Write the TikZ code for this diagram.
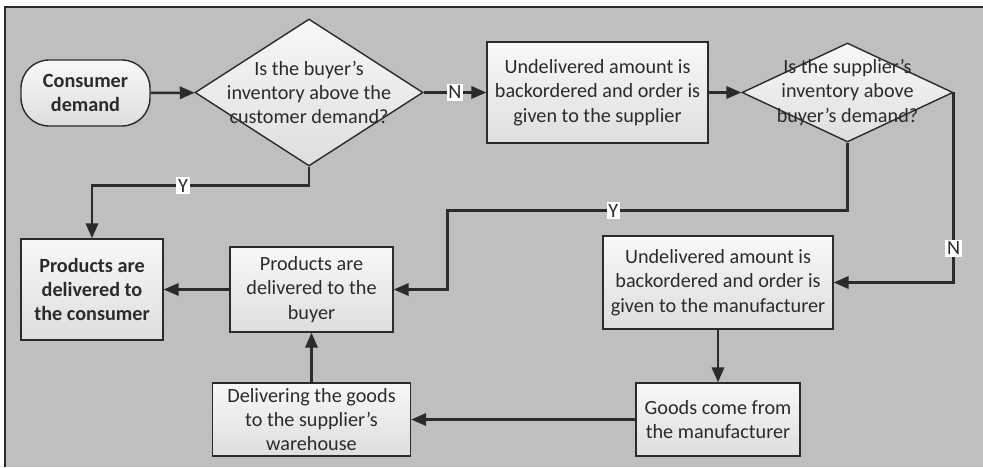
\documentclass[tikz,border=0pt]{standalone}
\usepackage{fontspec}
\setmainfont{Carlito}
\usetikzlibrary{positioning,arrows.meta,shapes.geometric,calc}
\definecolor{pagegray}{HTML}{BFBFBF}
\definecolor{inkgray}{HTML}{2B2B2B}
\definecolor{boxtop}{HTML}{F8F8F8}
\definecolor{boxbot}{HTML}{DEDEDE}
\tikzset{
  procb/.style={draw=inkgray, line width=0.8pt, top color=boxtop, bottom color=boxbot,
    align=center, inner sep=0pt, text=inkgray, font=\fontsize{11.5}{13.9}\selectfont},
  termb/.style={procb, rounded corners=16pt, font=\fontsize{11.5}{13.9}\selectfont\bfseries},
  askb/.style={procb, diamond, inner sep=-16pt},
  flow/.style={-{Triangle[length=8.5pt,width=7pt]}, line width=1.4pt, draw=inkgray},
  flab/.style={fill=white, inner sep=1pt, text=inkgray, font=\fontsize{11.5}{12}\selectfont},
}

\begin{document}
\begin{tikzpicture}[x=0.02cm, y=0.02cm]
    \useasboundingbox (0,0) rectangle (983,467);
    % backdrop
    \fill[pagegray] (5,0) rectangle (983,460);
    \draw[inkgray, line width=1pt] (5,0) -- (5,460) -- (983,460);
    % top row
    \node[termb, minimum width=129*0.02cm, minimum height=66*0.02cm] (demand) at (85.5,374) {Consumer\\demand};
    \node[askb, aspect=1.55, minimum width=228*0.02cm, minimum height=147*0.02cm] (buyask) at (309,374.5) {Is the buyer’s\\inventory above the\\customer demand?};
    \node[procb, minimum width=221*0.02cm, minimum height=101*0.02cm] (suporder) at (597.5,374.5) {Undelivered amount is\\backordered and order is\\given to the supplier};
    \node[askb, aspect=2.13, minimum width=211*0.02cm, minimum height=99*0.02cm] (supask) at (847.5,374.5) {Is the supplier’s\\inventory above\\buyer’s demand?};
    % middle row
    \node[procb, minimum width=142*0.02cm, minimum height=101*0.02cm, font=\fontsize{11.5}{13.9}\selectfont\bfseries] (consumer) at (92,177.5) {Products are\\delivered to\\the consumer};
    \node[procb, minimum width=163*0.02cm, minimum height=85*0.02cm] (buyer) at (311.5,177.5) {Products are\\delivered to the\\buyer};
    \node[procb, minimum width=230*0.02cm, minimum height=93*0.02cm] (manorder) at (718,184.5) {Undelivered amount is\\backordered and order is\\given to the manufacturer};
    % bottom row
    \node[procb, minimum width=164*0.02cm, minimum height=73*0.02cm] (goods) at (718,47.5) {Goods come from\\the manufacturer};
    \node[procb, minimum width=198*0.02cm, minimum height=73*0.02cm] (warehouse) at (311.5,47.5) {Delivering the goods\\to the supplier’s\\warehouse};
    \coordinate (ybend) at ($(buyer.east)+(54,0)$);
    % connectors
    \draw[flow] (demand) -- (buyask);
    \draw[flow] (buyask) -- node[flab] {N} (suporder);
    \draw[flow] (suporder) -- (supask);
    \draw[flow] (buyask.south) -- ++(0,-19) -| node[flab, pos=0.29] {Y} (consumer.north);
    \draw[flow] (supask.south) -- ++(0,-68) -| node[flab, pos=0.293] {Y} (ybend) -- (buyer.east);
    \draw[flow] (supask.east) |- node[flab, pos=0.41] {N} (manorder.east);
    \draw[flow] (manorder) -- (goods);
    \draw[flow] (goods) -- (warehouse);
    \draw[flow] (warehouse) -- (buyer);
    \draw[flow] (buyer) -- (consumer);
  \end{tikzpicture}
\end{document}
